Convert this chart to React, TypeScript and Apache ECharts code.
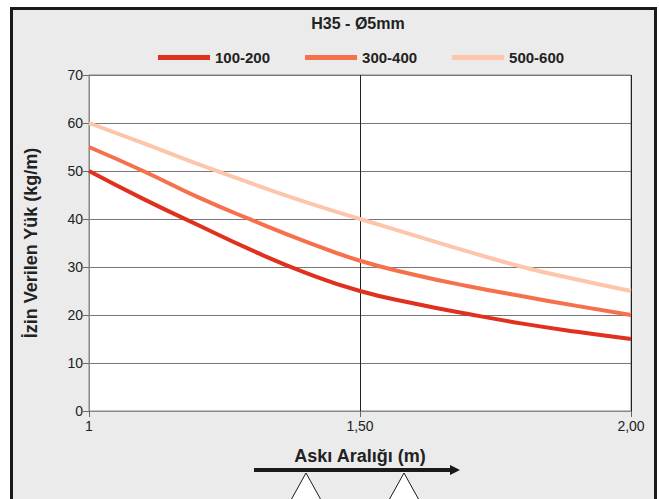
import React, { useEffect, useRef } from "react";
import * as echarts from "echarts";

const xValues = [1, 1.1, 1.2, 1.3, 1.4, 1.5, 1.6, 1.7, 1.8, 1.9, 2.0];
const seriesNames = ["100-200", "300-400", "500-600"];
const load100 = [50, 44.2, 38.8, 33.5, 28.8, 25.0, 22.4, 20.2, 18.2, 16.5, 15.0];
const load300 = [55, 50, 44.6, 39.8, 35.3, 31.3, 28.4, 26.0, 23.9, 21.9, 20.0];
const load500 = [60, 55.8, 51.5, 47.4, 43.5, 40.0, 36.6, 33.2, 30.0, 27.4, 25.0];
const colors = ["#e0301e", "#f7704c", "#fdc5aa"];

const FONT = "'Liberation Sans', Arial, sans-serif";

export default function App() {
  const ref = useRef<HTMLDivElement>(null);
  useEffect(() => {
    document.body.style.margin = "0";
    const chart = echarts.init(ref.current!, null, { renderer: "svg" });
    const data = [load100, load300, load500];
    chart.setOption({
      animation: false,
      backgroundColor: "#ffffff",
      textStyle: { fontFamily: FONT },
      title: {
        text: "H35 - Ø5mm",
        left: 353,
        textAlign: "center",
        top: 10,
        textStyle: { fontFamily: FONT, fontWeight: "bold", fontSize: 16, color: "#222" },
      },
      legend: {
        top: 45,
        left: 153,
        itemWidth: 52,
        itemHeight: 5,
        itemGap: 35,
        icon: "rect",
        data: seriesNames,
        textStyle: { fontFamily: FONT, fontWeight: "bold", fontSize: 15, color: "#222" },
      },
      grid: {
        left: 89,
        top: 75,
        right: 28,
        bottom: 88,
        show: true,
        backgroundColor: "#ffffff",
        borderColor: "#888",
        borderWidth: 1,
      },
      xAxis: {
        type: "value",
        min: 1,
        max: 2,
        interval: 0.5,
        name: "Askı Aralığı (m)",
        nameLocation: "middle",
        nameGap: 36,
        nameTextStyle: { fontFamily: FONT, fontWeight: "bold", fontSize: 18, color: "#222" },
        axisLine: { show: true, lineStyle: { color: "#888", width: 1 } },
        axisTick: { show: true, length: 6, lineStyle: { color: "#666" } },
        axisLabel: {
          fontFamily: FONT,
          fontSize: 14,
          color: "#222",
          margin: 8,
          formatter: (v: number) => (v === 1 ? "1" : v.toFixed(2).replace(".", ",")),
        },
        splitLine: { show: true, lineStyle: { color: "#222", width: 1 } },
      },
      yAxis: {
        type: "value",
        min: 0,
        max: 70,
        interval: 10,
        name: "İzin Verilen Yük (kg/m)",
        nameLocation: "middle",
        nameGap: 49,
        nameTextStyle: { fontFamily: FONT, fontWeight: "bold", fontSize: 18, color: "#222" },
        axisLine: { show: true, lineStyle: { color: "#888", width: 1 } },
        axisTick: { show: true, length: 6, lineStyle: { color: "#666" } },
        axisLabel: { fontFamily: FONT, fontSize: 14, color: "#222", margin: 6 },
        splitLine: { show: true, lineStyle: { color: "#777", width: 1 } },
      },
      graphic: [
        {
          type: "rect",
          z: -10,
          silent: true,
          shape: { x: 11.5, y: 8.5, width: 644, height: 500 },
          style: { fill: "#ebebeb", stroke: "#1a1a1a", lineWidth: 3 },
        },
        {
          type: "line",
          shape: { x1: 254, y1: 470, x2: 452, y2: 470 },
          style: { stroke: "#1a1a1a", lineWidth: 4 },
        },
        {
          type: "polygon",
          shape: { points: [[450, 465], [460, 470], [450, 475]] },
          style: { fill: "#1a1a1a" },
        },
        {
          type: "polygon",
          shape: { points: [[306, 473], [291, 500], [321, 500]] },
          style: { fill: "#ffffff", stroke: "#1a1a1a", lineWidth: 1 },
        },
        {
          type: "polygon",
          shape: { points: [[404, 473], [389, 500], [419, 500]] },
          style: { fill: "#ffffff", stroke: "#1a1a1a", lineWidth: 1 },
        },
      ],
      series: data.map((vals, i) => ({
        name: seriesNames[i],
        type: "line",
        smooth: true,
        showSymbol: false,
        symbol: "none",
        color: colors[i],
        lineStyle: { width: 4, color: colors[i] },
        data: xValues.map((x, j) => [x, vals[j]]),
        z: 3 + i,
      })),
    });
    return () => chart.dispose();
  }, []);
  return <div ref={ref} style={{ width: 659, height: 499 }} />;
}
